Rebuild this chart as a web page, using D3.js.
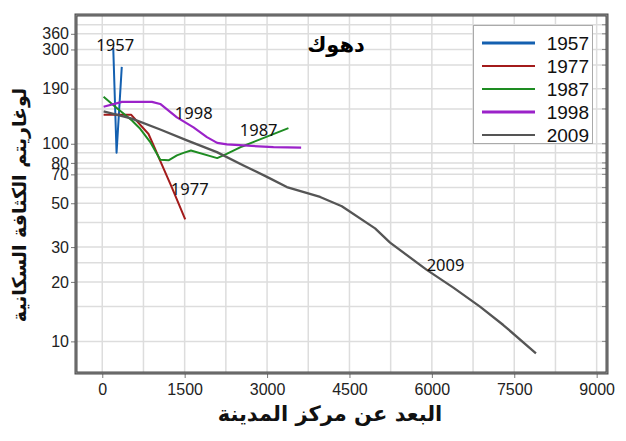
<!DOCTYPE html>
<html>
<head>
<meta charset="utf-8">
<script src="https://cdn.jsdelivr.net/npm/d3@7"></script>
<style>
  body { margin: 0; background: #fff; }
  svg { display: block; }
</style>
</head>
<body>
<svg id="chart" width="626" height="441"></svg>
<script>
// series: [distance from centre, population density]
const s1957 = [[200, 305], [260, 90], [355, 245]];
const s1977 = [[24, 140], [528, 140], [842, 112], [964, 94], [1055, 82], [1268, 60], [1510, 41.4]];
const s1987 = [[24, 173], [236, 154], [540, 131], [691, 119], [873, 102], [1055, 83], [1206, 82.4],
  [1359, 87.3], [1479, 89.9], [1614, 92.5], [2092, 84.6], [2265, 88.8], [2547, 96.9], [3389, 120]];
const s1998 = [[24, 154], [358, 163], [904, 163], [1055, 159], [1359, 136], [1661, 121], [1905, 108],
  [2092, 101], [2269, 99.2], [3116, 96.1], [3620, 95.5]];
const s2009 = [[24, 146], [540, 134], [1055, 118], [1541, 104], [2087, 90.7], [2571, 77.7], [3025, 67.4],
  [3360, 60.4], [3966, 53.8], [4361, 48.3], [4966, 37.3], [5239, 31.6], [5907, 23], [6391, 18.7],
  [6876, 15], [7300, 12.1], [7895, 8.7]];

const years = ["1957", "1977", "1987", "1998", "2009"];
const colors = ["#1460b0", "#a31b1b", "#1e8c22", "#9b22c9", "#555555"];
const widths = [2, 2, 2, 2.2, 2.3];
const legendWidths = [3, 2, 2, 3, 2];

const yTicks = [10, 20, 30, 50, 70, 80, 100, 190, 300, 360];
const yGrid = [10, 15, 20, 25, 30, 40, 50, 60, 70, 75, 80, 90, 100, 150, 190, 250, 300, 360, 400];
const xTicks = [0, 1500, 3000, 4500, 6000, 7500, 9000];
const xGrid = d3.range(0, 9001, 750);

// in-plot labels [text, x, y] in data units
const labels = [["1957", 236, 295], ["1998", 1665, 134], ["1987", 2847, 109], ["1977", 1592, 55], ["2009", 6249, 22.8]];

const svg = d3.select("#chart");
const pLeft = 77, pRight = 606, pTop = 16, pBottom = 372;

const x = d3.scaleLinear().domain([-460, 9170]).range([pLeft, pRight]);
const y = d3.scaleLog().domain([7, 443]).range([pBottom, pTop]);

// grid
svg.append("g").selectAll("line").data(yGrid).join("line")
  .attr("x1", pLeft).attr("x2", pRight)
  .attr("y1", d => y(d)).attr("y2", d => y(d))
  .attr("stroke", "#dddddd").attr("stroke-width", 1.5);
svg.append("g").selectAll("line").data(xGrid).join("line")
  .attr("x1", d => x(d)).attr("x2", d => x(d))
  .attr("y1", pTop).attr("y2", pBottom)
  .attr("stroke", "#dddddd").attr("stroke-width", 1.5);

// small ticks on right border
svg.append("g").selectAll("line").data(yGrid).join("line")
  .attr("x1", pRight - 4).attr("x2", pRight)
  .attr("y1", d => y(d)).attr("y2", d => y(d))
  .attr("stroke", "#888");

// axes
const yAxis = d3.axisLeft(y).tickValues(yTicks).tickFormat(d3.format("d")).tickSize(5).tickPadding(2);
const gy = svg.append("g").attr("transform", `translate(${pLeft - 1},0)`).call(yAxis);
gy.select(".domain").remove();
gy.selectAll("line").attr("stroke", "#777");
gy.selectAll("text").attr("font-family", "Liberation Sans, Arial, sans-serif")
  .attr("font-size", 16).attr("fill", "#222");

const xAxis = d3.axisBottom(x).tickValues(xTicks).tickFormat(d3.format("d")).tickSize(5).tickPadding(6);
const gx = svg.append("g").attr("transform", `translate(0,${pBottom + 1})`).call(xAxis);
gx.select(".domain").remove();
gx.selectAll("line").attr("stroke", "#777");
gx.selectAll("text").attr("font-family", "Liberation Sans, Arial, sans-serif")
  .attr("font-size", 16).attr("fill", "#222");

// series
const line = d3.line().x(d => x(d[0])).y(d => y(d[1]));
const series = [s1957, s1977, s1987, s1998, s2009];
series.forEach((s, i) => {
  svg.append("path").datum(s)
    .attr("d", line)
    .attr("fill", "none")
    .attr("stroke", colors[i])
    .attr("stroke-width", widths[i])
    .attr("stroke-linejoin", "round");
});

// frame
svg.append("rect")
  .attr("x", pLeft - 1).attr("y", pTop - 1)
  .attr("width", pRight - pLeft + 2).attr("height", pBottom - pTop + 2)
  .attr("fill", "none").attr("stroke", "#4a4a4a").attr("stroke-width", 3);
svg.append("rect")
  .attr("x", pLeft - 1).attr("y", pTop - 1)
  .attr("width", pRight - pLeft + 2).attr("height", pBottom - pTop + 2)
  .attr("fill", "none").attr("stroke", "#999").attr("stroke-width", 0.8);

// in-plot labels
svg.append("g").selectAll("text").data(labels).join("text")
  .attr("x", d => x(d[1])).attr("y", d => y(d[2]))
  .attr("text-anchor", "middle")
  .attr("font-family", "Noto Sans, sans-serif").attr("font-size", 16.5)
  .attr("fill", "#111")
  .text(d => d[0]);

// title
svg.append("text")
  .attr("x", 336).attr("y", 52)
  .attr("text-anchor", "middle")
  .attr("font-family", "DejaVu Sans, sans-serif").attr("font-weight", "bold")
  .attr("font-size", 21).attr("fill", "#000")
  .attr("direction", "rtl")
  .text("دهوك");

// legend
const lg = svg.append("g");
lg.append("rect")
  .attr("x", 473.5).attr("y", 25.5).attr("width", 119).attr("height", 118)
  .attr("fill", "#fff").attr("stroke", "#aaa");
years.forEach((yr, i) => {
  const cy = 43 + i * 23;
  lg.append("line")
    .attr("x1", 482).attr("x2", 535).attr("y1", cy).attr("y2", cy)
    .attr("stroke", colors[i]).attr("stroke-width", legendWidths[i]);
  lg.append("text")
    .attr("x", 589).attr("y", cy + 7)
    .attr("text-anchor", "end")
    .attr("font-family", "Liberation Sans, Arial, sans-serif").attr("font-size", 19)
    .attr("fill", "#111")
    .text(yr);
});

// axis titles
svg.append("text")
  .attr("x", 330).attr("y", 421)
  .attr("text-anchor", "middle")
  .attr("font-family", "DejaVu Sans, sans-serif").attr("font-weight", "bold")
  .attr("font-size", 21).attr("fill", "#111")
  .attr("direction", "rtl")
  .text("البعد عن مركز المدينة");

svg.append("text")
  .attr("transform", "translate(26,205) rotate(-90)")
  .attr("text-anchor", "middle")
  .attr("font-family", "DejaVu Sans, sans-serif").attr("font-weight", "bold")
  .attr("font-size", 19).attr("fill", "#111")
  .attr("direction", "rtl")
  .text("لوغاريتم الكثافة السكانية");
</script>
</body>
</html>
